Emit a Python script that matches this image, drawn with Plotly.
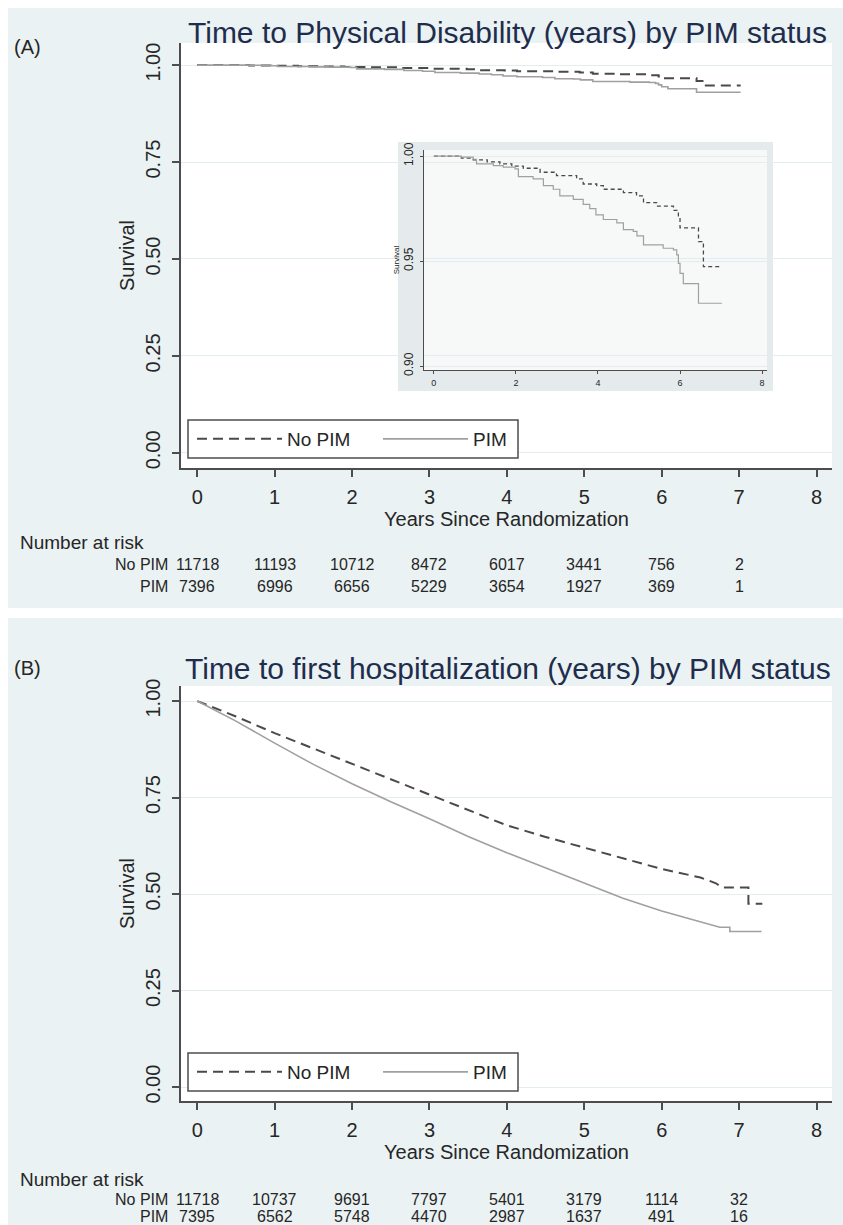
import plotly.graph_objects as go

W, H = 843, 1225


def px(x):
    return x / W


def py(y):
    return 1 - y / H


# ---------------- data ----------------
# Panel A (and inset): Kaplan-Meier, time to physical disability
tA_nopim = [0, 0.67, 0.96, 1.30, 1.61, 1.90, 2.18, 2.59, 2.99, 3.48, 3.64, 3.97, 4.13,
            4.62, 4.94, 5.11, 5.43, 5.84, 5.96, 6.00, 6.45, 6.57, 7.02]
sA_nopim = [1.000, 0.9990, 0.9982, 0.9972, 0.9963, 0.9952, 0.9942, 0.9923, 0.9907, 0.9891,
            0.9867, 0.9859, 0.9842, 0.9826, 0.9810, 0.9778, 0.9762, 0.9741, 0.9706, 0.9658,
            0.9593, 0.9473, 0.9473]
tA_pim = [0, 0.67, 0.96, 1.04, 1.45, 1.69, 1.98, 2.06, 2.42, 2.67, 2.91, 3.07, 3.40, 3.64,
          3.80, 3.95, 4.13, 4.46, 4.62, 4.86, 4.95, 5.11, 5.59, 5.84, 5.92, 5.96, 6.00, 6.08,
          6.45, 7.02]
sA_pim = [1.000, 0.9995, 0.9985, 0.9963, 0.9955, 0.9947, 0.9939, 0.9902, 0.9891, 0.9859,
          0.9842, 0.9810, 0.9794, 0.9770, 0.9750, 0.9720, 0.9698, 0.9682, 0.9650, 0.9641,
          0.9620, 0.9577, 0.9561, 0.9553, 0.9529, 0.9489, 0.9441, 0.9392, 0.9299, 0.9299]

# Panel B: time to first hospitalization
tB_nopim = [0, 0.5, 1.0, 1.5, 2.0, 2.5, 3.0, 3.5, 4.0, 4.5, 5.0, 5.5, 6.0, 6.5, 6.7, 6.78,
            7.12, 7.12, 7.30]
sB_nopim = [1.000, 0.960, 0.917, 0.877, 0.836, 0.796, 0.757, 0.716, 0.678, 0.648, 0.620,
            0.592, 0.565, 0.543, 0.528, 0.517, 0.517, 0.475, 0.475]
tB_pim = [0, 0.25, 0.5, 1.0, 1.5, 2.0, 2.5, 3.0, 3.5, 4.0, 4.5, 5.0, 5.5, 6.0, 6.5, 6.66,
          6.75, 6.88, 6.88, 7.29]
sB_pim = [1.000, 0.975, 0.948, 0.891, 0.836, 0.786, 0.739, 0.695, 0.649, 0.607, 0.567,
          0.527, 0.489, 0.456, 0.428, 0.419, 0.414, 0.414, 0.403, 0.403]

# Number at risk
risk_times = [0, 1, 2, 3, 4, 5, 6, 7]
riskA_nopim = [11718, 11193, 10712, 8472, 6017, 3441, 756, 2]
riskA_pim = [7396, 6996, 6656, 5229, 3654, 1927, 369, 1]
riskB_nopim = [11718, 10737, 9691, 7797, 5401, 3179, 1114, 32]
riskB_pim = [7395, 6562, 5748, 4470, 2987, 1637, 491, 16]

x_ticks = [0, 1, 2, 3, 4, 5, 6, 7, 8]
y_ticks = [0, 0.25, 0.5, 0.75, 1.0]
y_ticktext = ["0.00", "0.25", "0.50", "0.75", "1.00"]
inset_xticks = [0, 2, 4, 6, 8]
inset_yticks = [0.90, 0.95, 1.00]
inset_yticktext = ["0.90", "0.95", "1.00"]

title_A = "Time to Physical Disability (years) by PIM status"
title_B = "Time to first hospitalization (years) by PIM status"
x_title = "Years Since Randomization"
y_title = "Survival"
series_names = ["No PIM", "PIM"]

# ---------------- styles ----------------
FONT = "Liberation Sans, Arial, sans-serif"
COL_DASH = "#4a4a4a"
COL_SOLID = "#a0a0a0"
COL_AXIS = "#4d4d4d"
COL_TEXT = "#262626"
COL_TITLE = "#1f2d4d"
COL_PANEL = "#eaf2f3"
COL_GRID = "#e3edef"

fig = go.Figure()

# Panel A
fig.add_trace(go.Scatter(x=tA_nopim, y=sA_nopim, mode="lines", name=series_names[0],
                         line=dict(shape="hv", color=COL_DASH, width=2, dash="10px,6px"),
                         xaxis="x", yaxis="y", legend="legend"))
fig.add_trace(go.Scatter(x=tA_pim, y=sA_pim, mode="lines", name=series_names[1],
                         line=dict(shape="hv", color=COL_SOLID, width=1.6),
                         xaxis="x", yaxis="y", legend="legend"))
# Panel B
fig.add_trace(go.Scatter(x=tB_nopim, y=sB_nopim, mode="lines", name=series_names[0],
                         line=dict(color=COL_DASH, width=2, dash="10px,6px"),
                         xaxis="x2", yaxis="y2", legend="legend2"))
fig.add_trace(go.Scatter(x=tB_pim, y=sB_pim, mode="lines", name=series_names[1],
                         line=dict(color=COL_SOLID, width=1.6),
                         xaxis="x2", yaxis="y2", legend="legend2"))
# Inset
fig.add_trace(go.Scatter(x=tA_nopim, y=sA_nopim, mode="lines", showlegend=False,
                         line=dict(shape="hv", color=COL_DASH, width=1.3, dash="4px,3px"),
                         xaxis="x3", yaxis="y3"))
fig.add_trace(go.Scatter(x=tA_pim, y=sA_pim, mode="lines", showlegend=False,
                         line=dict(shape="hv", color=COL_SOLID, width=1.2),
                         xaxis="x3", yaxis="y3"))

axis_common = dict(showline=True, linecolor=COL_AXIS, linewidth=1.5, ticks="outside",
                   ticklen=7, tickwidth=1.5, tickcolor=COL_AXIS, zeroline=False,
                   tickfont=dict(size=20, color=COL_TEXT), mirror=False, automargin=False)

domA_x = [px(181), px(832)]
domA_y = [py(468), py(43)]
domB_y = [py(1101), py(686)]
domI_x = [px(424), px(767)]
domI_y = [py(370), py(150)]


def xaxis_main(anchor):
    return dict(axis_common, domain=domA_x, range=[-0.21, 8.2], tickvals=x_ticks,
                showgrid=False, anchor=anchor, ticklabelstandoff=3,
                title=dict(text=x_title, font=dict(size=20, color=COL_TEXT), standoff=0))


def yaxis_main(dom, rng, anchor):
    return dict(axis_common, domain=dom, range=rng, tickvals=y_ticks, ticktext=y_ticktext,
                tickangle=-90, showgrid=True, gridcolor=COL_GRID, gridwidth=1, anchor=anchor,
                ticklabelstandoff=4,
                title=dict(text=y_title, font=dict(size=20, color=COL_TEXT), standoff=2))


def legend_box(top, bottom):
    return dict(type="rect", xref="paper", yref="paper", x0=px(188), x1=px(518),
                y0=py(bottom), y1=py(top), fillcolor="white",
                line=dict(color=COL_AXIS, width=1.5), layer="above")


shapes = [
    dict(type="rect", xref="paper", yref="paper", x0=px(8), x1=1, y0=py(608), y1=py(8),
         fillcolor=COL_PANEL, line=dict(width=0), layer="below"),
    dict(type="rect", xref="paper", yref="paper", x0=px(8), x1=1, y0=0, y1=py(618),
         fillcolor=COL_PANEL, line=dict(width=0), layer="below"),
    dict(type="rect", xref="paper", yref="paper", x0=domA_x[0], x1=domA_x[1], y0=domA_y[0],
         y1=domA_y[1], fillcolor="white", line=dict(width=0), layer="below"),
    dict(type="rect", xref="paper", yref="paper", x0=domA_x[0], x1=domA_x[1], y0=domB_y[0],
         y1=domB_y[1], fillcolor="white", line=dict(width=0), layer="below"),
    dict(type="rect", xref="paper", yref="paper", x0=px(398), x1=px(773), y0=py(391),
         y1=py(142), fillcolor="#e5ebed", line=dict(width=0), layer="below"),
    dict(type="rect", xref="paper", yref="paper", x0=domI_x[0], x1=domI_x[1], y0=domI_y[0],
         y1=domI_y[1], fillcolor="#f7f9f9", line=dict(width=0), layer="below"),
    legend_box(420, 458),
    legend_box(1053, 1091),
]

annotations = [
    dict(text="(A)", x=px(12), y=py(47), xref="paper", yref="paper", xanchor="left",
         yanchor="middle", showarrow=False, font=dict(size=20, color=COL_TEXT)),
    dict(text="(B)", x=px(12), y=py(668), xref="paper", yref="paper", xanchor="left",
         yanchor="middle", showarrow=False, font=dict(size=20, color=COL_TEXT)),
    dict(text=title_A, x=px(508), y=py(33), xref="paper", yref="paper", xanchor="center",
         yanchor="middle", showarrow=False, font=dict(size=30, color=COL_TITLE)),
    dict(text=title_B, x=px(508), y=py(668), xref="paper", yref="paper", xanchor="center",
         yanchor="middle", showarrow=False, font=dict(size=30, color=COL_TITLE)),
]


def risk_block(xref, y_head, y_row1, y_row2, vals1, vals2):
    out = [dict(text="Number at risk", x=px(18), y=py(y_head), xref="paper", yref="paper",
                xanchor="left", yanchor="middle", showarrow=False,
                font=dict(size=19, color=COL_TEXT))]
    for lab, yy in ((series_names[0], y_row1), (series_names[1], y_row2)):
        out.append(dict(text=lab, x=px(170), y=py(yy), xref="paper", yref="paper",
                        xanchor="right", yanchor="middle", showarrow=False,
                        font=dict(size=16, color=COL_TEXT)))
    for vals, yy in ((vals1, y_row1), (vals2, y_row2)):
        for t, v in zip(risk_times, vals):
            out.append(dict(text=str(v), x=t, y=py(yy), xref=xref, yref="paper",
                            xanchor="center", yanchor="middle", showarrow=False,
                            font=dict(size=16, color=COL_TEXT)))
    return out


annotations += risk_block("x", 542, 564, 586, riskA_nopim, riskA_pim)
annotations += risk_block("x2", 1179, 1199, 1216, riskB_nopim, riskB_pim)

legend_common = dict(xanchor="left", yanchor="bottom", orientation="h",
                     bgcolor="rgba(0,0,0,0)", borderwidth=0,
                     font=dict(size=19, color=COL_TEXT), itemwidth=85,
                     entrywidth=86, entrywidthmode="pixels", tracegroupgap=0)

fig.update_layout(
    template="none",
    width=W, height=H,
    autosize=False,
    margin=dict(l=0, r=0, t=0, b=0, pad=0, autoexpand=False),
    paper_bgcolor="white",
    plot_bgcolor="rgba(0,0,0,0)",
    font=dict(family=FONT, color=COL_TEXT),
    showlegend=True,
    xaxis=xaxis_main("y"),
    yaxis=yaxis_main(domA_y, [-0.039, 1.057], "x"),
    xaxis2=xaxis_main("y2"),
    yaxis2=yaxis_main(domB_y, [-0.036, 1.039], "x2"),
    xaxis3=dict(axis_common, domain=domI_x, range=[-0.24, 8.12], tickvals=inset_xticks,
                showgrid=False, anchor="y3", ticklen=3, tickwidth=1, linewidth=1,
                tickfont=dict(size=9, color=COL_TEXT), ticklabelstandoff=1),
    yaxis3=dict(axis_common, domain=domI_y, range=[0.8981, 1.0029], tickvals=inset_yticks,
                ticktext=inset_yticktext, tickangle=-90, showgrid=True, gridcolor=COL_GRID,
                anchor="x3", ticklen=3, tickwidth=1, linewidth=1,
                tickfont=dict(size=12, color=COL_TEXT), ticklabelstandoff=2,
                title=dict(text=y_title, font=dict(size=8, color=COL_TEXT), standoff=1)),
    legend=dict(legend_common, x=px(192), y=py(458)),
    legend2=dict(legend_common, x=px(192), y=py(1091)),
    shapes=shapes,
    annotations=annotations,
)

fig.write_html("out.html", config={"displayModeBar": False},
               post_script="document.body.style.margin='0px';document.body.style.overflow='hidden';")
